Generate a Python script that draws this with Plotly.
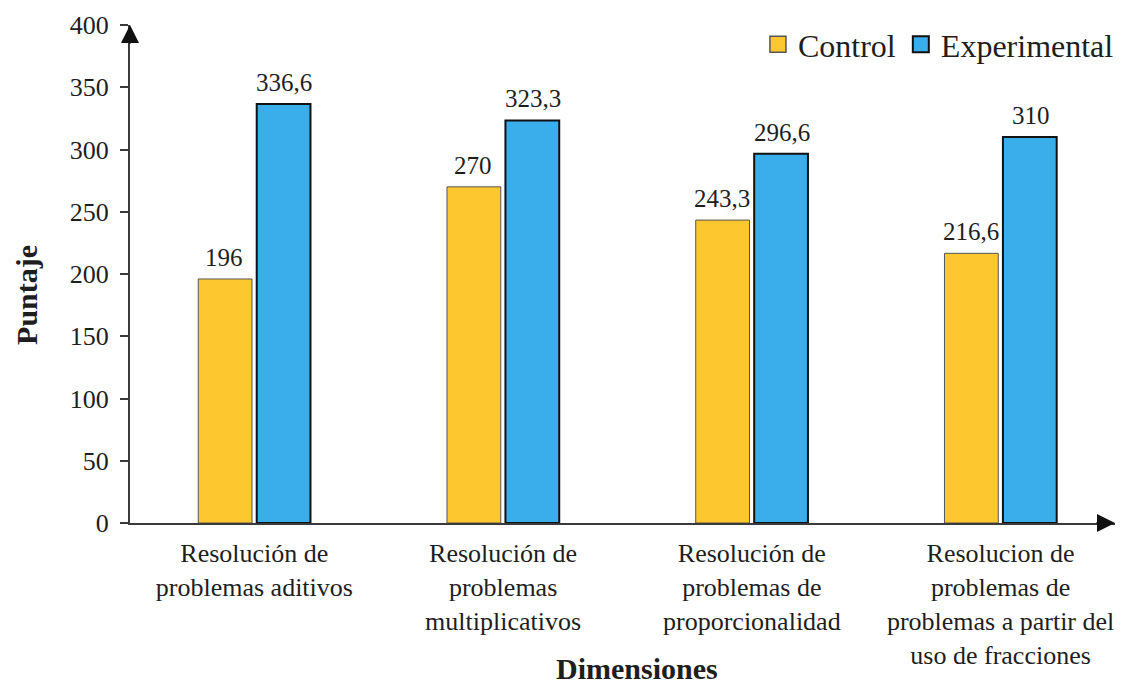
import plotly.graph_objects as go

categories = [
    "Resolución de<br>problemas aditivos",
    "Resolución de<br>problemas<br>multiplicativos",
    "Resolución de<br>problemas de<br>proporcionalidad",
    "Resolucion de<br>problemas de<br>problemas a partir del<br>uso de fracciones",
]
control = [196, 270, 243.3, 216.6]
experimental = [336.6, 323.3, 296.6, 310]
y_ticks = [0, 50, 100, 150, 200, 250, 300, 350, 400]

FONT = "Liberation Serif"
AXIS_COLOR = "#3a3a3a"
TEXT_COLOR = "#1e1e1e"
CONTROL_FILL = "#FDC82F"
EXPERIMENTAL_FILL = "#3AAEEA"


def fmt(v):
    return f"{v:g}".replace(".", ",")


x_idx = list(range(len(categories)))

fig = go.Figure()
fig.add_trace(go.Bar(
    name="Control", x=x_idx, y=control, showlegend=False,
    marker=dict(color=CONTROL_FILL, line=dict(color="#555555", width=1)),
))
fig.add_trace(go.Bar(
    name="Experimental", x=x_idx, y=experimental, showlegend=False,
    marker=dict(color=EXPERIMENTAL_FILL, line=dict(color="#111111", width=2)),
))

# legend entries with larger square swatches
fig.add_trace(go.Scatter(
    name="Control", x=[None], y=[None], mode="markers",
    marker=dict(symbol="square", size=16, color=CONTROL_FILL,
                line=dict(color="#555555", width=1.5)),
))
fig.add_trace(go.Scatter(
    name="Experimental", x=[None], y=[None], mode="markers",
    marker=dict(symbol="square", size=16, color=EXPERIMENTAL_FILL,
                line=dict(color="#111111", width=2)),
))

# value labels above each bar
offset_px = 30
for i in x_idx:
    for vals, sh in ((control, -offset_px), (experimental, offset_px)):
        fig.add_annotation(
            x=i, y=vals[i], text=fmt(vals[i]), showarrow=False,
            xref="x", yref="y", yanchor="bottom", xshift=sh, yshift=6,
            font=dict(family=FONT, size=25, color=TEXT_COLOR),
        )

# arrow heads at the ends of both axes
fig.add_annotation(xref="paper", yref="paper", x=0, y=1, ax=0, ay=20,
                   showarrow=True, arrowhead=2, arrowsize=1.8, arrowwidth=2,
                   arrowcolor="#111111", text="")
fig.add_annotation(xref="paper", yref="paper", x=1, y=0, ax=-20, ay=0,
                   showarrow=True, arrowhead=2, arrowsize=1.8, arrowwidth=2,
                   arrowcolor="#111111", text="")

# axis titles
fig.add_annotation(xref="paper", yref="paper", x=0.515, y=0, yanchor="middle",
                   yshift=-145, text="<b>Dimensiones</b>", showarrow=False,
                   font=dict(family=FONT, size=30, color=TEXT_COLOR))
fig.add_annotation(xref="paper", yref="paper", x=0, y=0.458, xanchor="center",
                   yanchor="middle", xshift=-103, text="<b>Puntaje</b>",
                   textangle=-90, showarrow=False,
                   font=dict(family=FONT, size=30, color=TEXT_COLOR))

fig.update_layout(
    width=1128, height=686,
    margin=dict(l=130, r=13, t=25, b=163, autoexpand=False),
    paper_bgcolor="white", plot_bgcolor="white",
    barmode="group", bargap=0.53, bargroupgap=0.08,
    font=dict(family=FONT, size=26, color=TEXT_COLOR),
    legend=dict(
        orientation="h", x=1.004, xanchor="right", y=1.016, yanchor="top",
        font=dict(family=FONT, size=32, color=TEXT_COLOR),
        itemwidth=30, tracegroupgap=0, bgcolor="rgba(0,0,0,0)",
    ),
    xaxis=dict(
        tickmode="array", tickvals=x_idx, ticktext=categories,
        range=[-0.5, 3.46], showline=True, linecolor=AXIS_COLOR, linewidth=2,
        ticks="", showgrid=False, zeroline=False, ticklabelstandoff=6,
        tickfont=dict(family=FONT, size=26, color=TEXT_COLOR),
    ),
    yaxis=dict(
        range=[0, 400], tickvals=y_ticks, showline=True,
        linecolor=AXIS_COLOR, linewidth=2, ticks="outside", ticklen=8,
        tickwidth=2, tickcolor=AXIS_COLOR, showgrid=False, zeroline=False,
        tickfont=dict(family=FONT, size=26, color=TEXT_COLOR),
        ticklabelstandoff=6,
    ),
)

fig.write_html("out.html")
